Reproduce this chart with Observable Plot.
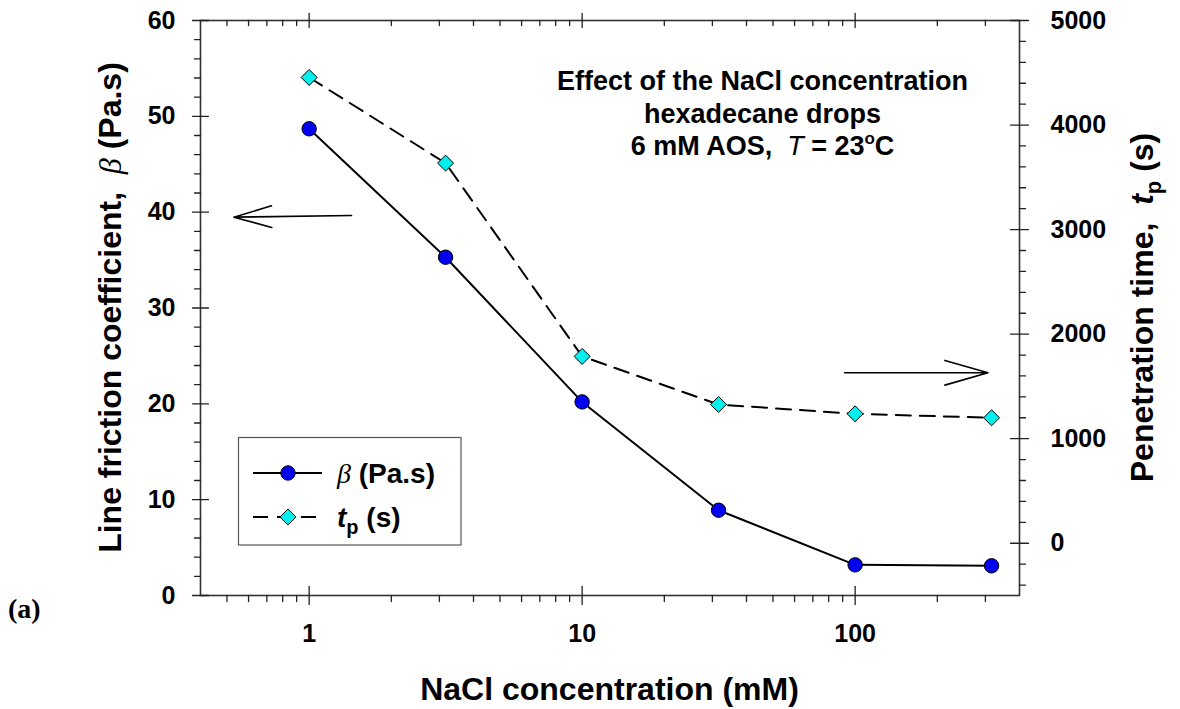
<!DOCTYPE html>
<html><head><meta charset="utf-8">
<script src="https://cdn.jsdelivr.net/npm/d3@7"></script>
<script src="https://cdn.jsdelivr.net/npm/@observablehq/plot@0.6"></script>
<style>
html,body{margin:0;padding:0;background:#fff;}
#chart{position:relative;width:1180px;height:709px;}
svg text{white-space:pre;}
</style></head><body><div id="chart"></div>
<script>
// ---- data ----
const nacl = [1, 3.16, 10, 31.6, 100, 316];          // NaCl concentration (mM)
const beta = [48.7, 35.3, 20.2, 8.9, 3.2, 3.1];      // line friction coefficient (Pa.s)
const tp   = [4455, 3636, 1787, 1327, 1238, 1200];   // penetration time (s)
const xTicks = [1, 10, 100];
const xMinorTicks = [0.5,0.6,0.7,0.8,0.9, 2,3,4,5,6,7,8,9, 20,30,40,50,60,70,80,90, 200,300];
const yLeftTicks = [0, 10, 20, 30, 40, 50, 60];
const yRightTicks = [0, 1000, 2000, 3000, 4000, 5000];
const xDomain = [0.4, 400];
const yLeftDomain = [0, 60];
const yRightDomain = [-500, 5000];
const annotationLines = ["Effect of the NaCl concentration", "hexadecane drops"];
// indicator arrows (data units: x in mM, y in left-axis units)
const arrowLeft  = [{x1: 1.43, y1: 39.65, x2: 0.53, y2: 39.48}];
const arrowRight = [{x1: 91.5, y1: 23.24, x2: 306.6, y2: 23.24}];

const toLeft = v => yLeftDomain[0] + (v - yRightDomain[0]) * (yLeftDomain[1] - yLeftDomain[0]) / (yRightDomain[1] - yRightDomain[0]);
const fromLeft = v => yRightDomain[0] + (v - yLeftDomain[0]) * (yRightDomain[1] - yRightDomain[0]) / (yLeftDomain[1] - yLeftDomain[0]);
const rows = nacl.map((c, i) => ({c, beta: beta[i], tp: tp[i], tpL: toLeft(tp[i])}));

const yLeftMinor = d3.range(2, 60, 2).filter(v => v % 10 !== 0);
const yRightMinor = d3.range(-400, 5000, 200).filter(v => v % 1000 !== 0).map(toLeft);

const tickShape = {draw(ctx, l) { ctx.moveTo(0, 0); ctx.lineTo(0, -l); }};
const TK = "#222";
const tickOpts = {shape: tickShape, stroke: TK, strokeWidth: 1.3};

const FONT = "'Liberation Sans', Arial, Helvetica, sans-serif";

const chart = Plot.plot({
  width: 1180, height: 709,
  marginLeft: 200, marginRight: 161, marginTop: 20, marginBottom: 114,
  style: {fontFamily: FONT, background: "white", overflow: "visible", color: "#000"},
  x: {type: "log", domain: xDomain},
  y: {domain: yLeftDomain},
  marks: [
    Plot.frame({stroke: "#333", strokeWidth: 1.6}),
    // tick labels
    Plot.axisY(yLeftTicks, {anchor: "left", tickSize: 0, tickPadding: 25, fontSize: 25, fontWeight: "bold", label: null, tickFormat: d => String(d)}),
    Plot.axisY(yRightTicks.map(toLeft), {anchor: "right", tickSize: 0, tickPadding: 31, fontSize: 25, fontWeight: "bold", label: null, tickFormat: d => String(Math.round(fromLeft(d)))}),
    Plot.axisX(xTicks, {anchor: "bottom", tickSize: 0, tickPadding: 29, fontSize: 25, fontWeight: "bold", label: null, tickFormat: d => String(d)}),
    // tick marks, bottom & top
    Plot.vector(xTicks, {...tickOpts, x: d => d, y: yLeftDomain[0], length: 18, anchor: "middle"}),
    Plot.vector(xMinorTicks, {...tickOpts, x: d => d, y: yLeftDomain[0], length: 6, rotate: 180, anchor: "start"}),
    Plot.vector(xTicks, {...tickOpts, x: d => d, y: yLeftDomain[1], length: 14, anchor: "middle"}),
    Plot.vector(xMinorTicks, {...tickOpts, x: d => d, y: yLeftDomain[1], length: 5, rotate: 180, anchor: "start"}),
    // left
    Plot.vector(yLeftTicks, {...tickOpts, x: xDomain[0], y: d => d, length: 16, rotate: 90, anchor: "middle"}),
    Plot.vector(yLeftMinor, {...tickOpts, x: xDomain[0], y: d => d, length: 6, rotate: -90, anchor: "start"}),
    // right
    Plot.vector(yRightTicks.map(toLeft), {...tickOpts, x: xDomain[1], y: d => d, length: 18, rotate: 90, anchor: "middle"}),
    Plot.vector(yRightMinor, {...tickOpts, x: xDomain[1], y: d => d, length: 6, rotate: 90, anchor: "start"}),
    // series
    Plot.line(rows, {x: "c", y: "tpL", stroke: "#000", strokeWidth: 2, strokeDasharray: "15,9"}),
    Plot.line(rows, {x: "c", y: "beta", stroke: "#000", strokeWidth: 2}),
    Plot.dot(rows, {x: "c", y: "tpL", symbol: "diamond2", r: 7.2, fill: "#00f0f0", stroke: "#000", strokeWidth: 1}),
    Plot.dot(rows, {x: "c", y: "beta", symbol: "circle", r: 7.2, fill: "#0000f0", stroke: "#000", strokeWidth: 1}),
    // arrows
    Plot.arrow(arrowLeft, {x1: "x1", y1: "y1", x2: "x2", y2: "y2", stroke: "#000", strokeWidth: 1.6, headLength: 42, headAngle: 32}),
    Plot.arrow(arrowRight, {x1: "x1", y1: "y1", x2: "x2", y2: "y2", stroke: "#000", strokeWidth: 1.6, headLength: 42, headAngle: 32})
  ]
});

document.getElementById("chart").appendChild(chart);
const svg = d3.select(chart);
const g = svg.append("g").attr("font-family", FONT).attr("fill", "#000").attr("text-anchor", "start");

// annotation block
const ax = 762.5;
annotationLines.forEach((t, i) => {
  g.append("text").attr("x", ax).attr("y", 90 + i * 32.5).attr("text-anchor", "middle")
    .attr("font-size", 27).attr("font-weight", "bold").text(t);
});
{
  const t = g.append("text").attr("x", ax).attr("y", 90 + 2 * 32.5).attr("text-anchor", "middle")
    .attr("font-size", 27).attr("font-weight", "bold");
  t.append("tspan").text("6 mM AOS,  ");
  t.append("tspan").attr("font-style", "italic").attr("font-weight", "normal").text("T");
  t.append("tspan").text(" = 23");
  t.append("tspan").attr("font-size", 17).attr("dy", -11).text("o");
  t.append("tspan").attr("dy", 11).text("C");
}

// left axis title
{
  const t = g.append("text").attr("transform", "translate(121,307.5) rotate(-90)")
    .attr("text-anchor", "middle").attr("font-size", 32).attr("font-weight", "bold");
  t.append("tspan").text("Line friction coefficient,  ");
  t.append("tspan").attr("font-style", "italic").attr("font-weight", "normal").attr("font-family", "'Liberation Serif', serif").text("β");
  t.append("tspan").text(" (Pa.s)");
}
// right axis title
{
  const t = g.append("text").attr("transform", "translate(1153,307.5) rotate(-90)")
    .attr("text-anchor", "middle").attr("font-size", 32).attr("font-weight", "bold");
  t.append("tspan").text("Penetration time,  ");
  t.append("tspan").attr("font-style", "italic").text("t");
  t.append("tspan").attr("font-size", 22).attr("dy", 8).text("p");
  t.append("tspan").attr("dy", -8).text(" (s)");
}
// bottom axis title
g.append("text").attr("x", 609.5).attr("y", 700).attr("text-anchor", "middle")
  .attr("font-size", 32).attr("font-weight", "bold").text("NaCl concentration (mM)");
// panel label
g.append("text").attr("x", 8).attr("y", 618).attr("font-size", 28).attr("font-weight", "bold")
  .attr("font-family", "'Liberation Serif', 'Times New Roman', serif").text("(a)");

// legend
{
  const L = g.append("g");
  L.append("rect").attr("x", 238.5).attr("y", 437.5).attr("width", 222.5).attr("height", 107.5)
    .attr("fill", "none").attr("stroke", "#555").attr("stroke-width", 1.2);
  L.append("line").attr("x1", 253).attr("x2", 322).attr("y1", 473).attr("y2", 473).attr("stroke", "#000").attr("stroke-width", 2);
  L.append("circle").attr("cx", 288).attr("cy", 473).attr("r", 7.2).attr("fill", "#0000f0").attr("stroke", "#000");
  const t1 = L.append("text").attr("x", 337).attr("y", 483).attr("font-size", 28).attr("font-weight", "bold");
  t1.append("tspan").attr("font-style", "italic").attr("font-weight", "normal").attr("font-family", "'Liberation Serif', serif").text("β");
  t1.append("tspan").text(" (Pa.s)");
  L.append("line").attr("x1", 253).attr("x2", 322).attr("y1", 517).attr("y2", 517).attr("stroke", "#000").attr("stroke-width", 2).attr("stroke-dasharray", "15,9");
  L.append("path").attr("transform", "translate(288,517)").attr("d", d3.symbol(d3.symbolDiamond2, Math.PI * 7.2 * 7.2)())
    .attr("fill", "#00f0f0").attr("stroke", "#000");
  const t2 = L.append("text").attr("x", 337).attr("y", 527).attr("font-size", 28).attr("font-weight", "bold");
  t2.append("tspan").attr("font-style", "italic").text("t");
  t2.append("tspan").attr("font-size", 20).attr("dy", 7).text("p");
  t2.append("tspan").attr("dy", -7).text(" (s)");
}
</script></body></html>
